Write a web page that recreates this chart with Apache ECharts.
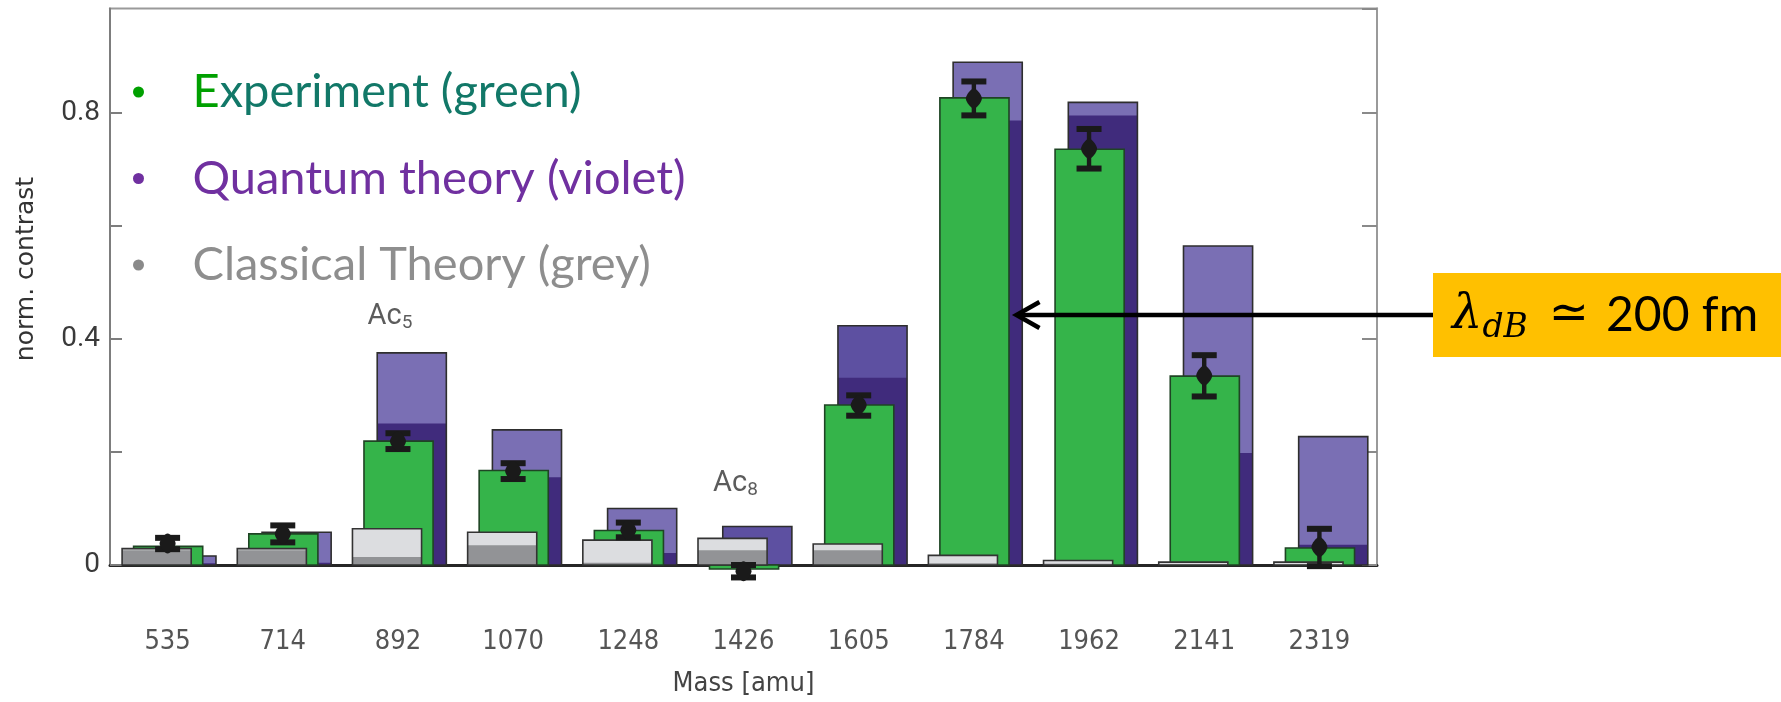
<!DOCTYPE html>
<html>
<head>
<meta charset="utf-8">
<script src="https://cdn.jsdelivr.net/npm/echarts@6/dist/echarts.min.js"></script>
<style>
  html, body { margin: 0; padding: 0; background: #ffffff; }
  #chart { width: 1781px; height: 702px; }
</style>
</head>
<body>
<div id="chart"></div>
<script>
// Cluster masses (amu), one band per mass
const masses = ['535', '714', '892', '1070', '1248', '1426', '1605', '1784', '1962', '2141', '2319'];

// Measured normalized contrast (green bars)
const experiment = [0.033, 0.055, 0.219, 0.167, 0.061, -0.007, 0.283, 0.826, 0.735, 0.334, 0.030];
// Measured point with its error interval
const expPoint = [0.038, 0.055, 0.219, 0.166, 0.062, -0.011, 0.283, 0.825, 0.736, 0.335, 0.032];
const expLow   = [0.028, 0.040, 0.205, 0.152, 0.049, -0.022, 0.264, 0.795, 0.701, 0.298, -0.002];
const expHigh  = [0.048, 0.070, 0.233, 0.180, 0.075, 0.000, 0.300, 0.855, 0.771, 0.371, 0.064];

// Quantum prediction: full bar and its darker inner part
const quantumTotal = [0.016, 0.058, 0.375, 0.239, 0.100, 0.068, 0.423, 0.889, 0.818, 0.564, 0.227];
const quantumInner = [0.003, 0.004, 0.250, 0.155, 0.021, 0.000, 0.331, 0.786, 0.795, 0.198, 0.036];

// Classical prediction: full bar and its darker inner part
const classicalTotal = [0.029, 0.029, 0.064, 0.058, 0.044, 0.047, 0.037, 0.017, 0.008, 0.005, 0.005];
const classicalInner = [0.026, 0.026, 0.014, 0.035, 0.004, 0.026, 0.026, 0.003, 0.002, 0.001, 0.001];

// Labelled y ticks
const yTickLabels = ['0', '0.4', '0.8'];

// Series names
const NAME_EXP = 'Experiment (green)';
const NAME_QT = 'Quantum theory (violet)';
const NAME_CT = 'Classical Theory (grey)';

// Bar placement inside a band (fractions of the band width)
const BAR_W = 0.6;
const OFF_CT = -0.095, OFF_EXP = 0.005, OFF_QT = 0.12, OFF_ERR = 0.0;
const QT_MEDIUM = new Set(['1426', '1605']);

const chart = echarts.init(document.getElementById('chart'), null, { renderer: 'canvas' });

function bandRect(api, idx, v0, v1, off) {
  const bw = api.size([1, 0])[0];
  const p0 = api.coord([idx, v0]);
  const p1 = api.coord([idx, v1]);
  const w = bw * BAR_W;
  return {
    x: p0[0] + bw * off - w / 2,
    y: Math.min(p0[1], p1[1]),
    width: w,
    height: Math.abs(p1[1] - p0[1])
  };
}

function twoToneBar(off, lightColor, darkColor, stroke) {
  return function (params, api) {
    const i = api.value(0);
    const full = bandRect(api, i, 0, api.value(1), off);
    const inner = bandRect(api, i, 0, api.value(2), off);
    const top = typeof lightColor === 'function' ? lightColor(i) : lightColor;
    return {
      type: 'group',
      children: [
        { type: 'rect', shape: full, style: { fill: top } },
        { type: 'rect', shape: inner, style: { fill: darkColor } },
        { type: 'rect', shape: full, style: { fill: 'none', stroke: stroke, lineWidth: 1.6 } }
      ]
    };
  };
}

const yFmt = v => {
  const hit = yTickLabels.find(t => Math.abs(parseFloat(t) - v) < 1e-9);
  return hit === undefined ? '' : hit;
};

const LEGEND_FONT = "Lato, 'Noto Sans', sans-serif";
const NARROW_FONT = "'Liberation Sans Narrow', 'DejaVu Sans Condensed', Roboto, sans-serif";

const option = {
  backgroundColor: '#ffffff',
  animation: false,
  grid: {
    left: 110, right: 404, top: 8.5, bottom: 135,
    show: true, borderColor: '#9a9a9a', borderWidth: 2, backgroundColor: 'transparent'
  },
  legend: {
    orient: 'vertical',
    left: 128, top: 62,
    itemWidth: 98, itemHeight: 11, itemGap: 36.5,
    icon: 'circle',
    selectedMode: false,
    data: [
      { name: NAME_EXP, itemStyle: { color: '#00a000' }, textStyle: { color: '#127868' } },
      { name: NAME_QT, itemStyle: { color: '#7030a0' }, textStyle: { color: '#7030a0' } },
      { name: NAME_CT, itemStyle: { color: '#8a8a8a' }, textStyle: { color: '#8e8e8e' } }
    ],
    formatter: n => (n === NAME_EXP ? '{e|E}' + n.slice(1) : n),
    textStyle: {
      fontFamily: LEGEND_FONT, fontSize: 47, lineHeight: 50,
      rich: { e: { color: '#00a000', fontFamily: LEGEND_FONT, fontSize: 47, lineHeight: 50 } }
    }
  },
  xAxis: {
    type: 'category',
    data: masses,
    boundaryGap: true,
    axisLine: { onZero: true, lineStyle: { color: '#262626', width: 3 } },
    axisTick: { show: false },
    axisLabel: { margin: 63, fontSize: 27, color: '#555555', fontFamily: NARROW_FONT },
    splitLine: { show: false },
    name: 'Mass [amu]',
    nameLocation: 'middle',
    nameGap: 105,
    nameTextStyle: { fontSize: 27, color: '#444444', fontFamily: NARROW_FONT }
  },
  yAxis: [
    {
      type: 'value', min: 0, max: 0.984, interval: 0.2,
      axisLine: { show: true, lineStyle: { color: '#7d7d7d', width: 2 } },
      axisTick: { show: true, inside: true, length: 12, lineStyle: { color: '#7d7d7d', width: 2 } },
      axisLabel: { formatter: yFmt, margin: 10, fontSize: 28, color: '#3a3a3a', fontFamily: 'Roboto, sans-serif', showMaxLabel: false },
      splitLine: { show: false }
    },
    {
      type: 'value', position: 'right', min: 0, max: 0.984, interval: 0.2,
      axisLine: { show: true, lineStyle: { color: '#9a9a9a', width: 2 } },
      axisTick: { show: true, inside: true, length: 15, lineStyle: { color: '#8a8a8a', width: 2 } },
      axisLabel: { show: false },
      splitLine: { show: false }
    }
  ],
  series: [
    {
      name: NAME_QT, type: 'custom', z: 2, clip: false,
      itemStyle: { color: '#7030a0' },
      renderItem: twoToneBar(OFF_QT, i => (QT_MEDIUM.has(masses[i]) ? '#5d50a1' : '#7a6fb4'), '#402b7c', '#2e2e2e'),
      encode: { x: 0, y: [1, 2] },
      data: masses.map((m, i) => [i, quantumTotal[i], quantumInner[i]])
    },
    {
      name: NAME_EXP, type: 'custom', z: 3, clip: false,
      itemStyle: { color: '#00a000' },
      renderItem: function (params, api) {
        const r = bandRect(api, api.value(0), 0, api.value(1), OFF_EXP);
        return { type: 'rect', shape: r, style: { fill: '#35b44a', stroke: '#1f4424', lineWidth: 1.6 } };
      },
      encode: { x: 0, y: 1 },
      data: masses.map((m, i) => [i, experiment[i]])
    },
    {
      name: NAME_CT, type: 'custom', z: 4, clip: false,
      itemStyle: { color: '#8a8a8a' },
      renderItem: twoToneBar(OFF_CT, '#dcdde0', '#929396', '#333333'),
      encode: { x: 0, y: [1, 2] },
      data: masses.map((m, i) => [i, classicalTotal[i], classicalInner[i]])
    },
    {
      name: 'error', type: 'custom', z: 5, clip: false,
      renderItem: function (params, api) {
        const i = api.value(0);
        const bw = api.size([1, 0])[0];
        const pv = api.coord([i, api.value(1)]);
        const pl = api.coord([i, api.value(2)]);
        const ph = api.coord([i, api.value(3)]);
        const cx = pv[0] + bw * OFF_ERR;
        const c = '#1a1a1a';
        return {
          type: 'group',
          children: [
            { type: 'rect', shape: { x: cx - 2.2, y: ph[1], width: 4.4, height: pl[1] - ph[1] }, style: { fill: c } },
            { type: 'rect', shape: { x: cx - 12.5, y: ph[1] - 3, width: 25, height: 6 }, style: { fill: c } },
            { type: 'rect', shape: { x: cx - 12.5, y: pl[1] - 3, width: 25, height: 6 }, style: { fill: c } },
            { type: 'polygon', shape: { points: [[cx, pv[1] - 10], [cx + 8, pv[1]], [cx, pv[1] + 10], [cx - 8, pv[1]]], smooth: 0.35 }, style: { fill: c } }
          ]
        };
      },
      encode: { x: 0, y: [1, 2, 3] },
      data: masses.map((m, i) => [i, expPoint[i], expLow[i], expHigh[i]])
    },
    {
      name: 'cluster', type: 'scatter', z: 6, symbolSize: 0, silent: true,
      label: {
        show: true, position: 'inside', offset: [-8, 0], color: '#333333',
        rich: {
          a: { fontFamily: 'Roboto, sans-serif', fontSize: 29, lineHeight: 32, color: '#333333' },
          s: { fontFamily: 'Roboto, sans-serif', fontSize: 19, lineHeight: 18, verticalAlign: 'bottom', color: '#333333' }
        }
      },
      data: [
        { value: ['892', 0.439], label: { formatter: '{a|Ac}{s|5}' } },
        { value: ['1426', 0.1445], label: { formatter: '{a|Ac}{s|8}' } }
      ]
    }
  ]
};

chart.setOption(option);

// Callout arrow to the 1784 amu band and the wavelength box
const xBand = chart.convertToPixel({ xAxisIndex: 0 }, '1784');
const bandW = chart.convertToPixel({ xAxisIndex: 0 }, '1962') - xBand;
const yArrow = chart.convertToPixel({ yAxisIndex: 0 }, 0.442);
const tipX = xBand + bandW * 0.37;
const boxX = 1433;

chart.setOption({
  graphic: [
    {
      type: 'text', x: 26, y: 269, rotation: Math.PI / 2, z: 10,
      style: { text: 'norm. contrast', align: 'center', verticalAlign: 'middle', fontSize: 25, fontFamily: "'DejaVu Sans', sans-serif", fill: '#333333' }
    },
    {
      type: 'line', z: 10,
      shape: { x1: tipX + 2, y1: yArrow, x2: boxX, y2: yArrow },
      style: { stroke: '#000000', lineWidth: 4.5 }
    },
    {
      type: 'polyline', z: 10,
      shape: { points: [[tipX + 23, yArrow - 13], [tipX, yArrow], [tipX + 23, yArrow + 13]] },
      style: { stroke: '#000000', lineWidth: 4.5, fill: 'none', lineJoin: 'miter' }
    },
    {
      type: 'rect', z: 10,
      shape: { x: boxX, y: 273, width: 1781 - boxX, height: 84 },
      style: { fill: '#ffc000' }
    },
    {
      type: 'text', z: 11, x: 1452, y: 316,
      style: {
        text: '{l|λ}{s|dB}{q|≃}{r|200 fm}',
        align: 'left', verticalAlign: 'middle',
        rich: {
          l: { fontFamily: "'DejaVu Serif', serif", fontStyle: 'italic', fontSize: 48, lineHeight: 58, fill: '#000' },
          s: { fontFamily: "'DejaVu Serif', serif", fontStyle: 'italic', fontSize: 33, lineHeight: 24, verticalAlign: 'bottom', fill: '#000' },
          q: { fontFamily: "'DejaVu Sans', sans-serif", fontSize: 48, lineHeight: 58, padding: [0, 0, 0, 21], fill: '#000' },
          r: { fontFamily: "Lato, 'DejaVu Sans', sans-serif", fontSize: 48, lineHeight: 58, padding: [0, 0, 0, 17], fill: '#000' }
        }
      }
    }
  ]
});
</script>
</body>
</html>
